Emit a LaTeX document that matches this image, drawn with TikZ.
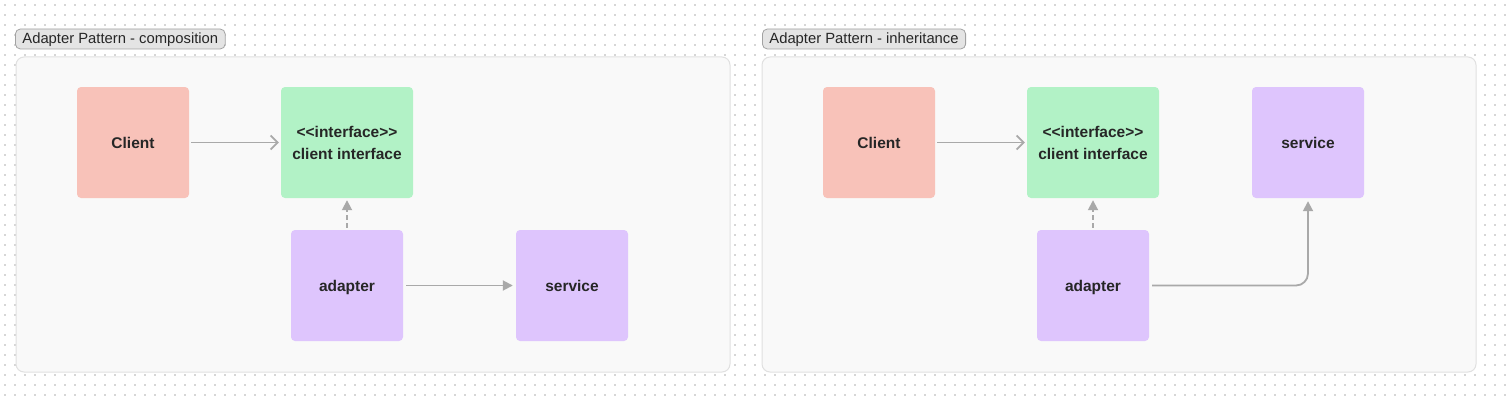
\documentclass[tikz,border=0pt]{standalone}
\usepackage{fontspec}
\setmainfont{Liberation Sans}
\usepackage{tikz}
\usepackage{xcolor}
\usetikzlibrary{positioning,arrows.meta}
\definecolor{clientred}{HTML}{F8C2B9}
\definecolor{ifacegreen}{HTML}{B2F2C6}
\definecolor{adaptpurple}{HTML}{DEC5FD}
\definecolor{framefill}{HTML}{F9F9F9}
\definecolor{frameline}{HTML}{E0E0E0}
\definecolor{tagfill}{HTML}{E4E4E4}
\definecolor{tagline}{HTML}{A2A2A2}
\definecolor{wire}{HTML}{A9A9A9}
\definecolor{ink}{HTML}{262626}
\definecolor{griddot}{HTML}{D6D6D6}

\begin{document}
\begin{tikzpicture}[x=1pt,y=1pt]
\tikzstyle{every node}+=[inner sep=0pt]
\tikzstyle{box}=[rectangle,rounded corners=4pt,minimum width=112pt,minimum height=111pt,text=ink,font=\fontsize{15.5}{22}\selectfont\bfseries,align=center]
\tikzstyle{oneline}=[text height=14pt,text depth=3pt]
\tikzstyle{tag}=[rectangle,rounded corners=5pt,draw=tagline,fill=tagfill,line width=0.8pt,minimum height=20pt,inner xsep=7pt,anchor=west,text=ink,font=\fontsize{14.8}{16}\selectfont,text height=12.5pt,text depth=3pt]
\tikzstyle{frame}=[draw=frameline,fill=framefill,line width=1pt,rounded corners=8pt]
\tikzstyle{plain}=[draw=wire,line width=1.8pt,-{Straight Barb[length=7pt,width=14pt]}]
\tikzstyle{solid}=[draw=wire,line width=1.8pt,-{Triangle[length=10pt,width=10pt]}]
\tikzstyle{realize}=[draw=wire,line width=1.8pt,dash pattern=on 5pt off 3pt,-{Triangle[length=10pt,width=10pt]}]
\useasboundingbox [fill=white] (0,0) rectangle (1510,-404);
\foreach \y in {5,15,...,405}
  \draw [griddot,line width=1.4pt,dash pattern=on 1.4pt off 8.6pt,dash phase=-4.3pt] (0,-\y) -- (1510,-\y);
\draw [frame] (16,-57) rectangle (730,-372);
\draw [frame] (762,-57) rectangle (1476,-372);
\node [tag] (tagcomp) at (15,-39) {Adapter Pattern - composition};
\node [tag] (taginh) at (762,-39) {Adapter Pattern - inheritance};
\node [box,oneline,fill=clientred] (clientA) at (133,-142.5) {Client};
\node [box,fill=ifacegreen,minimum width=132pt] (ifaceA) at (347,-142.5) {<{}<interface>{}>\\client interface};
\node [box,oneline,fill=adaptpurple] (adapterA) at (347,-285.5) {adapter};
\node [box,oneline,fill=adaptpurple] (serviceA) at (572,-285.5) {service};
\draw [plain,shorten <=2pt,shorten >=2pt] (clientA) -- (ifaceA);
\draw [realize,shorten <=2pt,shorten >=2pt] (adapterA) -- (ifaceA);
\draw [solid,shorten <=3pt,shorten >=3pt] (adapterA) -- (serviceA);
\node [box,oneline,fill=clientred] (clientB) at (879,-142.5) {Client};
\node [box,fill=ifacegreen,minimum width=132pt] (ifaceB) at (1093,-142.5) {<{}<interface>{}>\\client interface};
\node [box,oneline,fill=adaptpurple] (serviceB) at (1308,-142.5) {service};
\node [box,oneline,fill=adaptpurple] (adapterB) at (1093,-285.5) {adapter};
\draw [plain,shorten <=2pt,shorten >=2pt] (clientB) -- (ifaceB);
\draw [realize,shorten <=2pt,shorten >=2pt] (adapterB) -- (ifaceB);
\draw [solid,rounded corners=12pt,shorten <=3pt,shorten >=3pt] (adapterB.east) -| (serviceB.south);
\end{tikzpicture}
\end{document}
